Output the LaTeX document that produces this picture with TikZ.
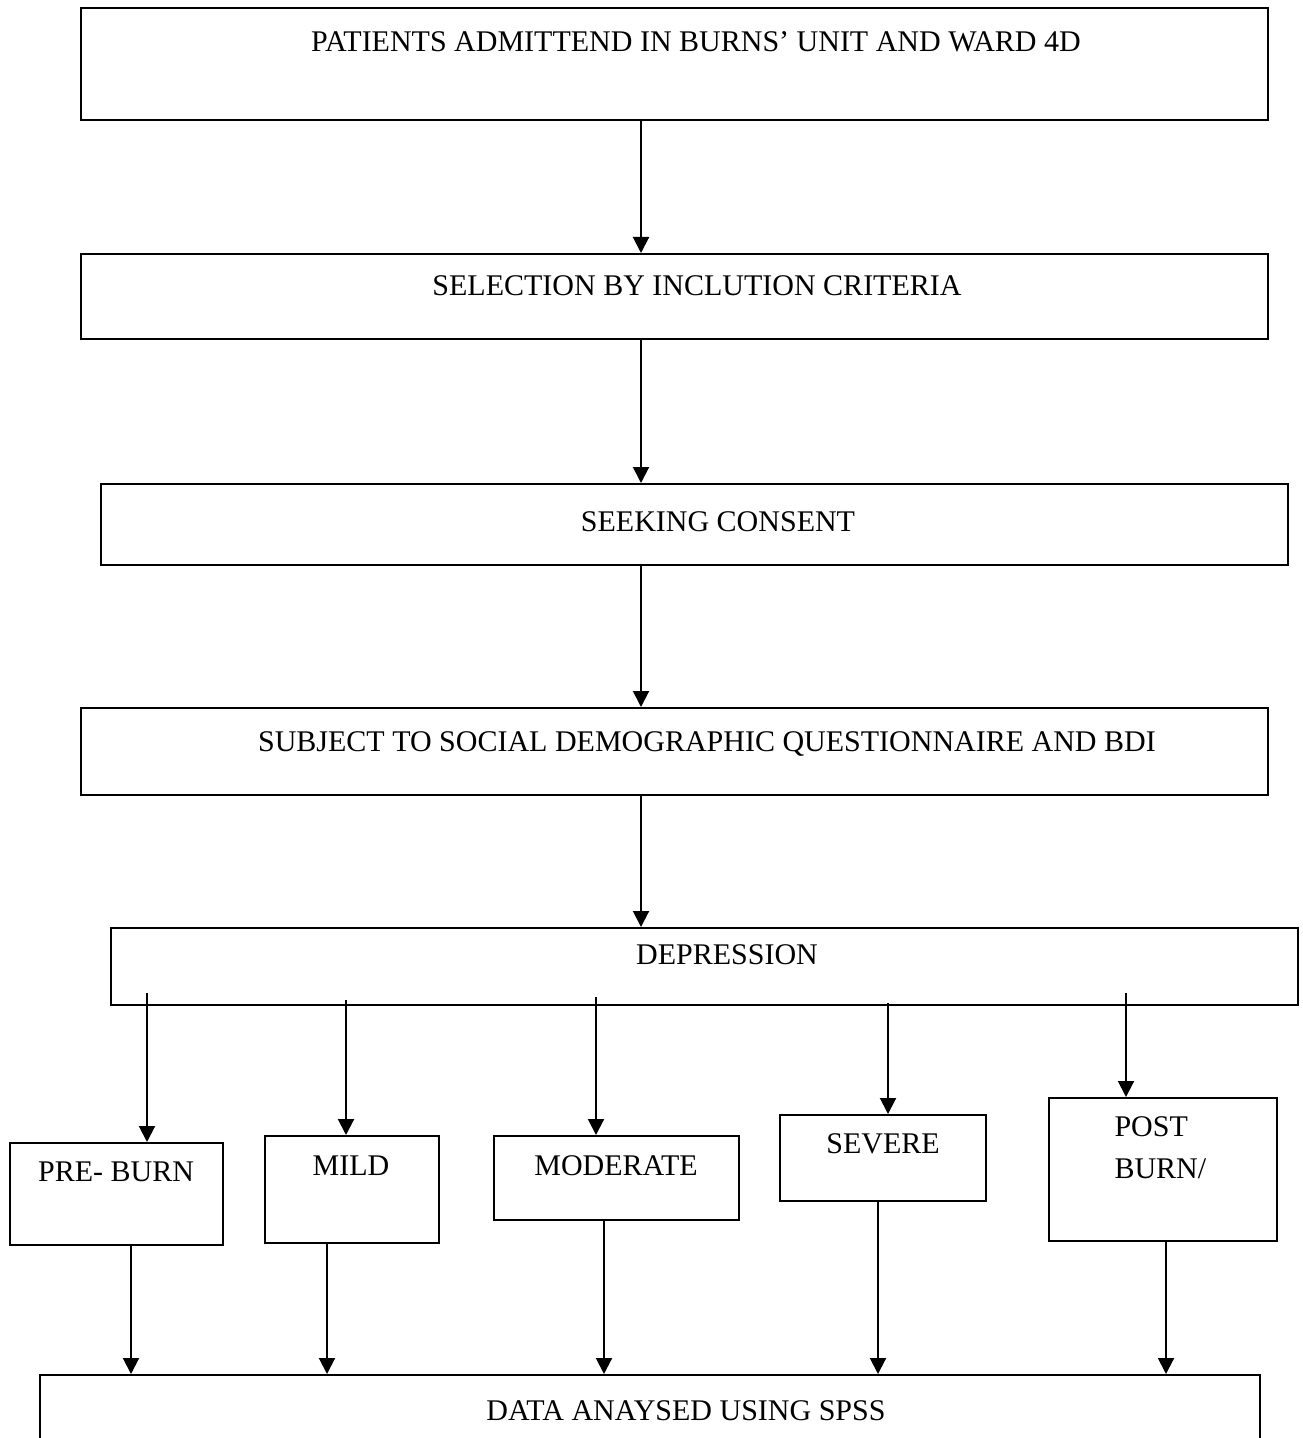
\documentclass[tikz,border=0pt]{standalone}
\usepackage{fontspec}
\setmainfont{Liberation Serif}
\usetikzlibrary{arrows.meta,fit}
\begin{document}
\begin{tikzpicture}[x=0.4pt,y=-0.4pt,
  box/.style={draw,line width=0.8pt,inner sep=0pt},
  lbl/.style={anchor=base,inner sep=0pt,font=\fontsize{12pt}{14pt}\selectfont},
  lblw/.style={anchor=base west,inner sep=0pt,font=\fontsize{12pt}{14pt}\selectfont},
  arr/.style={line width=0.8pt,-{Triangle[length=6.4pt,width=6.4pt]}}]
\useasboundingbox (0,0) rectangle (1303,1438);
\clip (0,0) rectangle (1303,1438);
% main boxes
\node[box,fit={(81,8) (1268,120)}] (b1) {};
\node[box,fit={(81,254) (1268,339)}] (b2) {};
\node[box,fit={(101,484) (1288,565)}] (b3) {};
\node[box,fit={(81,708) (1268,795)}] (b4) {};
\node[box,fit={(111,928) (1298,1005)}] (b5) {};
% small boxes
\node[box,fit={(10,1143) (223,1245)}] (pre) {};
\node[box,fit={(265,1136) (439,1243)}] (mild) {};
\node[box,fit={(494,1136) (739,1220)}] (mod) {};
\node[box,fit={(780,1115) (986,1201)}] (sev) {};
\node[box,fit={(1049,1098) (1277,1241)}] (post) {};
% bottom box
\node[box,fit={(40,1375) (1260,1470)}] (data) {};
% texts
\node[lbl] (t1) at (696,52) {PATIENTS ADMITTEND IN BURNS’ UNIT AND WARD 4D};
\node[lbl] (t2) at (697,295) {SELECTION BY INCLUTION CRITERIA};
\node[lbl] (t3) at (718,531) {SEEKING CONSENT};
\node[lbl] (t4) at (707,751) {SUBJECT TO SOCIAL DEMOGRAPHIC QUESTIONNAIRE AND BDI};
\node[lbl] (t5) at (727,964) {DEPRESSION};
\node[lbl] (tpre) at (116,1181) {PRE- BURN};
\node[lbl] (tmild) at (351,1175) {MILD};
\node[lbl] (tmod) at (616,1175) {MODERATE};
\node[lbl] (tsev) at (883,1153) {SEVERE};
\node[lblw] (tpost1) at (1114,1136) {POST};
\node[lblw] (tpost2) at (1114,1178) {BURN/};
\node[lbl] (tdata) at (686,1420) {DATA ANAYSED USING SPSS};
% vertical connectors between main boxes
\coordinate (cx) at (641,0);
\draw[arr] (b1.south -| cx) -- (b2.north -| cx);
\draw[arr] (b2.south -| cx) -- (b3.north -| cx);
\draw[arr] (b3.south -| cx) -- (b4.north -| cx);
\draw[arr] (b4.south -| cx) -- (b5.north -| cx);
% from depression to categories
\coordinate (s1) at (147,993);
\coordinate (s2) at (346,1000);
\coordinate (s3) at (596,997);
\coordinate (s4) at (888,1003);
\coordinate (s5) at (1126,993);
\draw[arr] (s1) -- (pre.north -| s1);
\draw[arr] (s2) -- (mild.north -| s2);
\draw[arr] (s3) -- (mod.north -| s3);
\draw[arr] (s4) -- (sev.north -| s4);
\draw[arr] (s5) -- (post.north -| s5);
% from categories to data box
\coordinate (d1) at (131,0);
\coordinate (d2) at (327,0);
\coordinate (d3) at (604,0);
\coordinate (d4) at (878,0);
\coordinate (d5) at (1166,0);
\draw[arr] (pre.south -| d1) -- (data.north -| d1);
\draw[arr] (mild.south -| d2) -- (data.north -| d2);
\draw[arr] (mod.south -| d3) -- (data.north -| d3);
\draw[arr] (sev.south -| d4) -- (data.north -| d4);
\draw[arr] (post.south -| d5) -- (data.north -| d5);
\end{tikzpicture}
\end{document}
